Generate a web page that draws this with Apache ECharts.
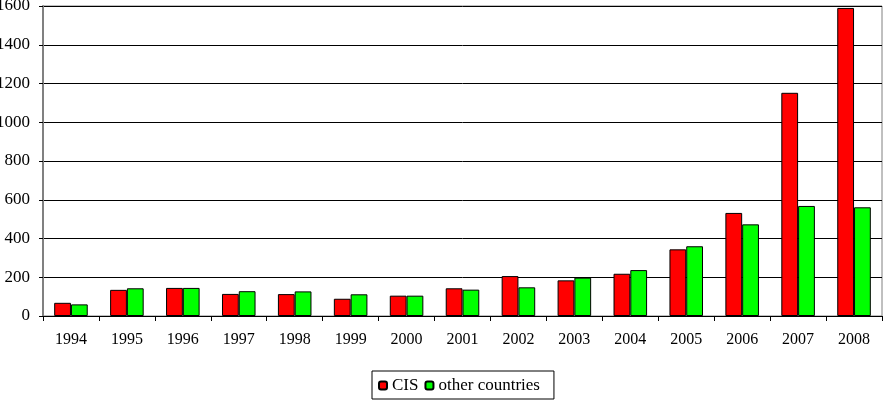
<!DOCTYPE html>
<html>
<head>
<meta charset="utf-8">
<script src="https://cdn.jsdelivr.net/npm/echarts@6/dist/echarts.min.js"></script>
<style>
  html, body { margin: 0; padding: 0; background: #fff; }
  #chart { width: 892px; height: 412px; }
</style>
</head>
<body>
<div id="chart"></div>
<script>
// categories and values
var years = ['1994', '1995', '1996', '1997', '1998', '1999', '2000', '2001',
  '2002', '2003', '2004', '2005', '2006', '2007', '2008'];
var cis = [68, 135, 145, 114, 113, 89, 105, 143, 206, 184, 218, 344, 532, 1152, 1590];
var otherCountries = [60, 143, 145, 128, 127, 112, 105, 136, 148, 198, 237, 360, 473, 568, 561];
var yTicks = [0, 200, 400, 600, 800, 1000, 1200, 1400, 1600];

var font = 'Liberation Serif';
var chart = echarts.init(document.getElementById('chart'));

chart.setOption({
  animation: false,
  textStyle: { fontFamily: font },
  grid: {
    left: 43, right: 10, top: 6, bottom: 96,
    outerBoundsMode: 'none',
    show: true, borderColor: '#808080', borderWidth: 1
  },
  legend: {
    data: ['CIS', 'other countries'],
    left: 372, top: 371,
    padding: [6, 14, 5, 6],
    itemWidth: 8, itemHeight: 8, itemGap: 6,
    borderColor: '#000', borderWidth: 1, borderRadius: 0,
    textStyle: { fontFamily: font, fontSize: 17, color: '#000' }
  },
  xAxis: {
    type: 'category',
    data: years,
    axisLine: { lineStyle: { color: '#000', width: 1 } },
    axisTick: { show: true, length: 5, lineStyle: { color: '#000' } },
    axisLabel: { margin: 16, fontSize: 16, color: '#000', fontFamily: font }
  },
  yAxis: {
    type: 'value',
    min: yTicks[0], max: yTicks[yTicks.length - 1], interval: 200,
    axisLine: { show: true, lineStyle: { color: '#808080', width: 2 } },
    axisTick: { show: true, length: 4, lineStyle: { color: '#000' } },
    axisLabel: {
      margin: 13, fontSize: 17, color: '#000', fontFamily: font,
      formatter: function (v) { return String(v); }
    },
    splitLine: { lineStyle: { color: '#000', width: 1 } }
  },
  series: [
    {
      name: 'CIS', type: 'bar', data: cis,
      barGap: '0%', barCategoryGap: '40%',
      itemStyle: { color: '#ff0000', borderColor: '#000', borderWidth: 1 }
    },
    {
      name: 'other countries', type: 'bar', data: otherCountries,
      itemStyle: { color: '#00ff00', borderColor: '#000', borderWidth: 1 }
    }
  ]
});
</script>
</body>
</html>
